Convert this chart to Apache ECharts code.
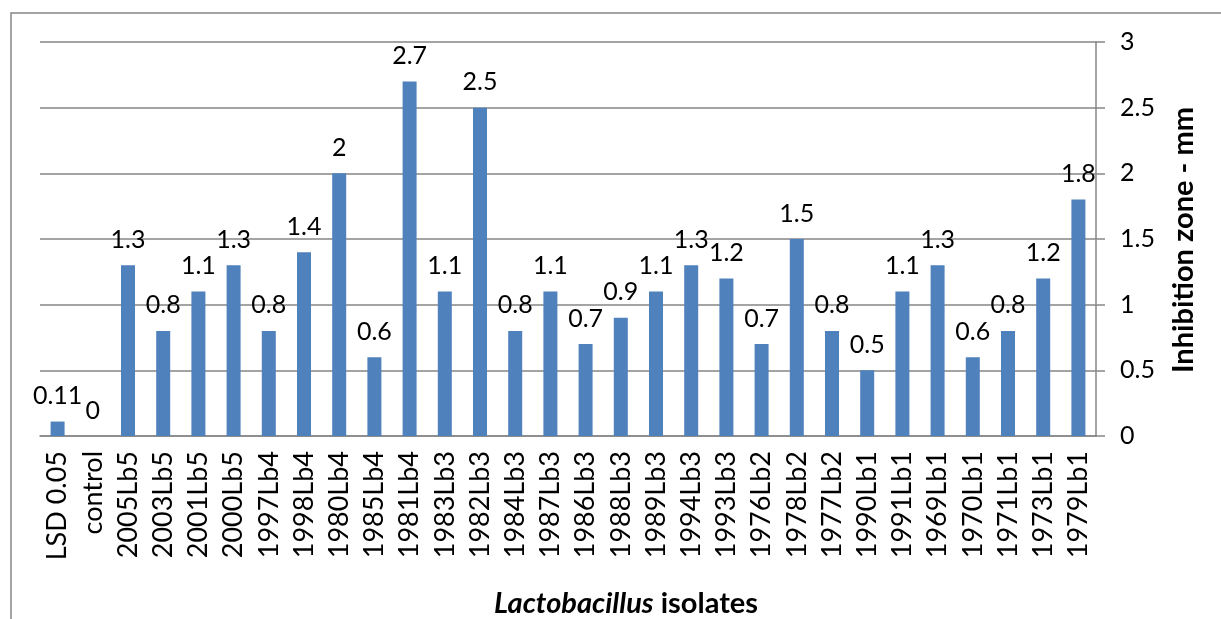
<!DOCTYPE html>
<html><head><meta charset="utf-8">
<script src="https://cdn.jsdelivr.net/npm/echarts@6/dist/echarts.min.js"></script>
<style>html,body{margin:0;padding:0;background:#fff}#c{width:1221px;height:619px}</style>
</head><body><div id="c"></div>
<script>
const categories = ['LSD 0.05','control','2005Lb5','2003Lb5','2001Lb5','2000Lb5','1997Lb4','1998Lb4','1980Lb4','1985Lb4','1981Lb4','1983Lb3','1982Lb3','1984Lb3','1987Lb3','1986Lb3','1988Lb3','1989Lb3','1994Lb3','1993Lb3','1976Lb2','1978Lb2','1977Lb2','1990Lb1','1991Lb1','1969Lb1','1970Lb1','1971Lb1','1973Lb1','1979Lb1'];
const values = [0.11,0,1.3,0.8,1.1,1.3,0.8,1.4,2,0.6,2.7,1.1,2.5,0.8,1.1,0.7,0.9,1.1,1.3,1.2,0.7,1.5,0.8,0.5,1.1,1.3,0.6,0.8,1.2,1.8];
const yTicks = {min:0, max:3, interval:0.5};
const font = 'Lato, "Liberation Sans", sans-serif';
const chart = echarts.init(document.getElementById('c'), null, {renderer:'canvas'});
chart.setOption({
  animation:false,
  backgroundColor:'#fff',
  grid:{left:40, right:125, top:42, bottom:183},
  xAxis:{type:'category', data:categories,
    axisLine:{lineStyle:{color:'#868686', width:1.5}},
    axisTick:{show:false},
    axisLabel:{rotate:90, interval:0, color:'#000', fontSize:27, fontFamily:font, margin:15}},
  yAxis:{type:'value', position:'right', min:yTicks.min, max:yTicks.max, interval:yTicks.interval,
    axisLine:{show:true, lineStyle:{color:'#868686', width:1.5}},
    axisTick:{show:true, length:9, lineStyle:{color:'#868686', width:1.5}},
    splitLine:{lineStyle:{color:'#868686', width:1.5}},
    axisLabel:{color:'#000', fontSize:25, fontFamily:font, margin:24}},
  series:[{type:'bar', data:values, barWidth:14, itemStyle:{color:'#4F81BD'},
    label:{show:true, position:'top', distance:13, color:'#000', fontSize:25, fontFamily:font}}],
  graphic:[
    {type:'rect', shape:{x:11, y:13, width:1400, height:800}, style:{fill:null, stroke:'#868686', lineWidth:1.5}, z:-1},
    {type:'text', x:1184, y:240, rotation:Math.PI/2,
      style:{text:'Inhibition zone - mm', fontSize:29, fontWeight:'bold', fontFamily:font, fill:'#000', align:'center', verticalAlign:'middle'}},
    {type:'text', x:626, y:604,
      style:{text:'{i|Lactobacillus} {b|isolates}', align:'center', verticalAlign:'middle', fontSize:29, fontWeight:'bold', fontFamily:font, fill:'#000',
        rich:{i:{fontSize:29, fontWeight:'bold', fontStyle:'italic', fontFamily:font, fill:'#000'}, b:{fontSize:29, fontWeight:'bold', fontFamily:font, fill:'#000'}}}}
  ]
});
</script></body></html>
